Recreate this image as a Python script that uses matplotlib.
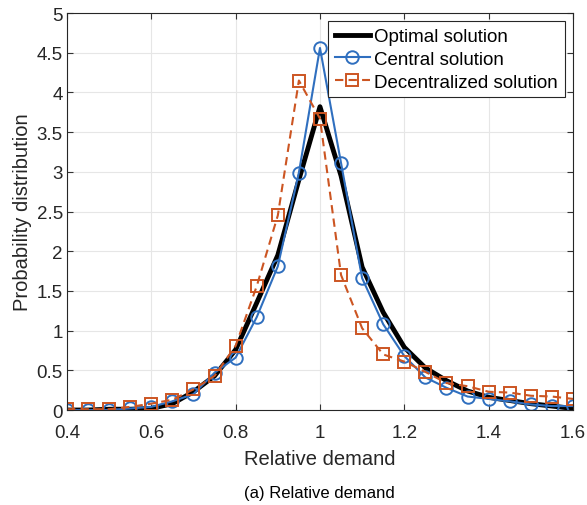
import numpy as np
import matplotlib.pyplot as plt

plt.rcParams['font.family'] = ['Liberation Sans', 'DejaVu Sans']

demand = [0.40, 0.45, 0.50, 0.55, 0.60, 0.65, 0.70, 0.75, 0.80, 0.85, 0.90, 0.95, 1.00,
          1.05, 1.10, 1.15, 1.20, 1.25, 1.30, 1.35, 1.40, 1.45, 1.50, 1.55, 1.60]
optimal = [0.0, 0.0, 0.01, 0.01, 0.02, 0.08, 0.23, 0.43, 0.76, 1.35, 1.95, 2.9, 3.82,
           2.95, 1.8, 1.23, 0.79, 0.53, 0.37, 0.24, 0.16, 0.12, 0.08, 0.05, 0.02]
central = [0.0, 0.0, 0.0, 0.02, 0.04, 0.11, 0.2, 0.47, 0.66, 1.17, 1.81, 2.99, 4.56,
           3.11, 1.66, 1.08, 0.68, 0.41, 0.28, 0.17, 0.14, 0.11, 0.07, 0.05, 0.05]
decentral = [0.01, 0.01, 0.01, 0.04, 0.08, 0.13, 0.26, 0.43, 0.81, 1.56, 2.45, 4.15, 3.67,
             1.70, 1.03, 0.70, 0.61, 0.48, 0.34, 0.30, 0.23, 0.22, 0.18, 0.17, 0.14]

blue = '#2f6fbf'
orange = '#cc5522'

fig = plt.figure(figsize=(5.87, 5.06), dpi=100)
ax = fig.add_axes([0.1141, 0.1877, 0.862, 0.7846])

ax.plot(demand, optimal, color='black', lw=3.5, label='Optimal solution')
ax.plot(demand, central, color=blue, lw=1.5, marker='o', ms=9, mfc='none',
        mew=1.4, label='Central solution')
ax.plot(demand, decentral, color=orange, lw=1.5, ls=(0, (4, 2.5)), marker='s', ms=8,
        mfc='none', mew=1.4, label='Decentralized solution')

ax.set_xlim(0.4, 1.6)
ax.set_ylim(0, 5)
ax.set_xticks(np.arange(0.4, 1.61, 0.2))
ax.set_xticklabels(['0.4', '0.6', '0.8', '1', '1.2', '1.4', '1.6'])
ax.set_yticks(np.arange(0, 5.01, 0.5))
ax.set_yticklabels(['0', '0.5', '1', '1.5', '2', '2.5', '3', '3.5', '4', '4.5', '5'])
ax.tick_params(direction='in', labelsize=13.5, length=4, top=True, right=True,
               color='#333333', labelcolor='#262626')
ax.tick_params(axis='x', pad=10)
ax.tick_params(axis='y', pad=3)
ax.grid(True, color='#e6e6e6', lw=0.8)
ax.set_axisbelow(True)
for s in ax.spines.values():
    s.set_color('#262626')
    s.set_linewidth(0.8)

ax.set_xlabel('Relative demand', fontsize=14.5, labelpad=6, color='#262626')
ax.set_ylabel('Probability distribution', fontsize=14.5, labelpad=3, color='#262626')

leg = ax.legend(loc='upper right', fontsize=13.5, fancybox=False, framealpha=1,
                edgecolor='#262626', borderpad=0.35, handlelength=1.85,
                handletextpad=0.25, labelspacing=0.3, borderaxespad=0.45)
leg.get_frame().set_linewidth(0.8)

fig.text(0.5435, 0.024, '(a) Relative demand', ha='center', va='center', fontsize=12)

fig.savefig('out.png', dpi=100)
